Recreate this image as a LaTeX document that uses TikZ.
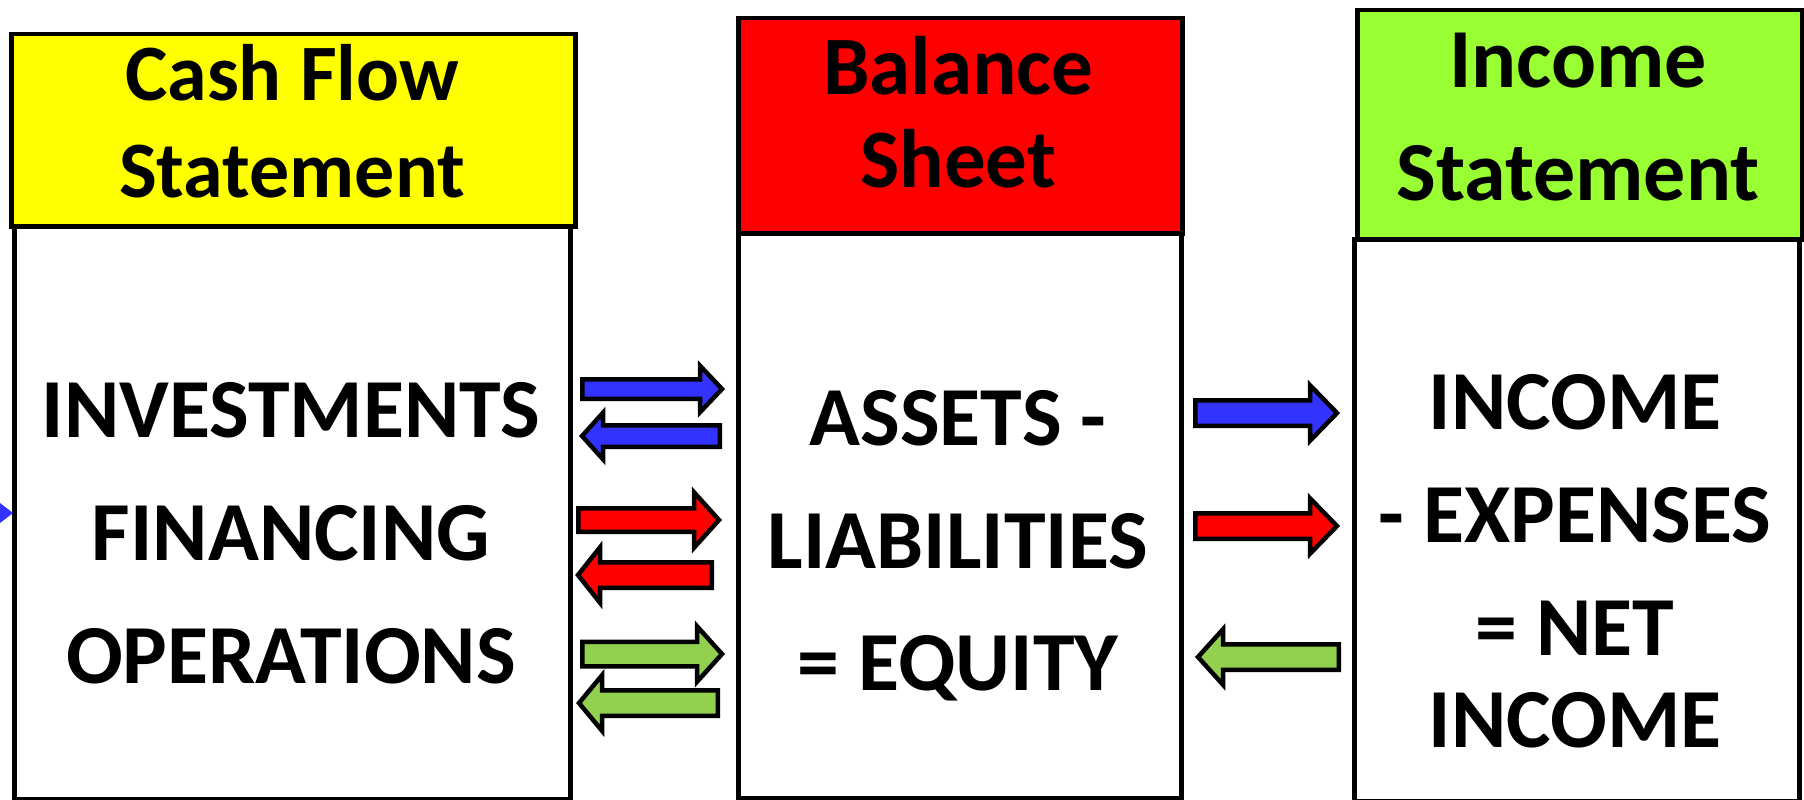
\documentclass[tikz,border=0pt]{standalone}
\usepackage{fontspec}
\setmainfont{Carlito}
\definecolor{hdyellow}{HTML}{FFFF00}
\definecolor{hdred}{HTML}{FF0000}
\definecolor{hdgreen}{HTML}{99FF33}
\definecolor{arblue}{HTML}{3333FF}
\definecolor{arred}{HTML}{FF0000}
\definecolor{argreen}{HTML}{92D050}
\tikzset{
  box/.style={draw=black, line width=4.5pt, rectangle, inner sep=0pt, anchor=north west},
  blk/.style={draw=black, line width=4.5pt, line join=miter},
  hdtxt/.style={anchor=base, inner sep=0pt, font=\fontsize{84}{100}\selectfont\bfseries},
  bdtxt/.style={anchor=base, inner sep=0pt, font=\fontsize{84}{100}\selectfont\bfseries},
}
% right-pointing block arrow: colour, tail x, tip x, y, shaft half, head half, head length
\newcommand{\rblk}[7]{%
  \draw[blk, fill=#1] (#2+2.25,#4-#5+2.25) -- (#3-#7,#4-#5+2.25) -- (#3-#7,#4-#6+2.25)
    -- (#3-3,#4) -- (#3-#7,#4+#6-2.25) -- (#3-#7,#4+#5-2.25) -- (#2+2.25,#4+#5-2.25) -- cycle;}
% left-pointing block arrow: colour, tail x, tip x, y, shaft half, head half, head length
\newcommand{\lblk}[7]{%
  \draw[blk, fill=#1] (#2-2.25,#4-#5+2.25) -- (#3+#7,#4-#5+2.25) -- (#3+#7,#4-#6+2.25)
    -- (#3+3,#4) -- (#3+#7,#4+#6-2.25) -- (#3+#7,#4+#5-2.25) -- (#2-2.25,#4+#5-2.25) -- cycle;}
\begin{document}
\begin{tikzpicture}[x=1pt,y=-1pt]
\useasboundingbox (0,0) rectangle (1804,800);
% bodies
\node[box, fill=white, minimum width=556pt, minimum height=573pt] (cfbody) at (12,224) {};
\node[box, fill=white, minimum width=443pt, minimum height=565pt] (bsbody) at (736,231) {};
\node[box, fill=white, minimum width=445pt, minimum height=562pt] (isbody) at (1352,237) {};
% headers
\node[box, fill=hdyellow, minimum width=564pt, minimum height=192pt] (cfhead) at (9,32) {};
\node[box, fill=hdred, minimum width=444pt, minimum height=215pt] (bshead) at (736,16) {};
\node[box, fill=hdgreen, minimum width=445pt, minimum height=229pt] (ishead) at (1355,8) {};
% header texts
\node[hdtxt, font=\fontsize{80}{96}\selectfont\bfseries] (cft1) at (292,100) {Cash Flow};
\node[hdtxt, font=\fontsize{80}{96}\selectfont\bfseries] (cft2) at (292,197) {Statement};
\node[hdtxt, font=\fontsize{83}{100}\selectfont\bfseries] (bst1) at (958,95) {Balance};
\node[hdtxt, font=\fontsize{83}{100}\selectfont\bfseries] (bst2) at (958,187) {Sheet};
\node[hdtxt] (ist1) at (1578,88) {Income};
\node[hdtxt] (ist2) at (1578,200) {Statement};
% body texts
\node[bdtxt] (cfb1) at (291,437) {INVESTMENTS};
\node[bdtxt] (cfb2) at (291,560) {FINANCING};
\node[bdtxt] (cfb3) at (291,683) {OPERATIONS};
\node[bdtxt] (bsb1) at (958,445) {ASSETS -};
\node[bdtxt] (bsb2) at (958,568) {LIABILITIES};
\node[bdtxt] (bsb3) at (958,690) {= EQUITY};
\node[bdtxt] (isb1) at (1575,429) {INCOME};
\node[bdtxt] (isb2) at (1575,542) {- EXPENSES};
\node[bdtxt] (isb3) at (1575,655) {= NET};
\node[bdtxt] (isb4) at (1575,747) {INCOME};
% arrows between cash flow and balance sheet
\rblk{arblue}{580}{725}{389}{12}{25.5}{25}
\lblk{arblue}{722}{579}{436}{13}{25.5}{24}
\rblk{arred}{576}{722}{520}{14}{30}{28}
\lblk{arred}{714}{575}{575}{15}{30}{25}
\rblk{argreen}{580}{725}{654}{14.5}{30}{28}
\lblk{argreen}{720}{576}{703}{15}{30}{26}
% arrows between balance sheet and income statement
\rblk{arblue}{1193}{1340}{413}{15}{30}{30}
\rblk{arred}{1193}{1340}{526}{15}{30}{30}
\lblk{argreen}{1341}{1195}{657}{15}{30}{28}
% small arrow tip at the left edge
\fill[arblue] (0,503) -- (13,513) -- (0,523) -- cycle;
\end{tikzpicture}
\end{document}
